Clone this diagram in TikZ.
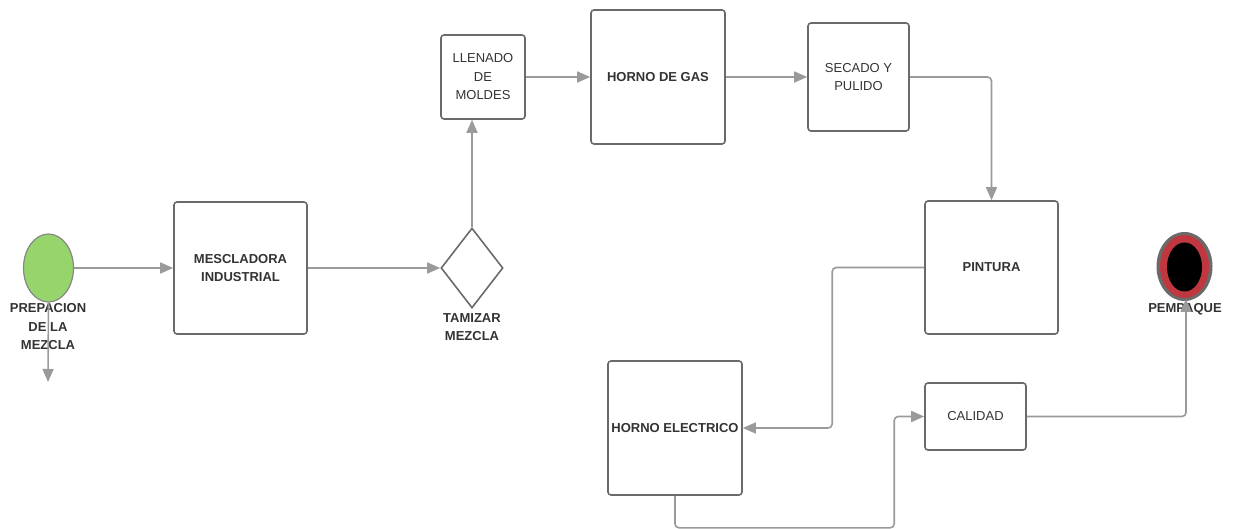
\documentclass[tikz,border=0pt]{standalone}
\usepackage{fontspec}
\setmainfont{Liberation Sans}
\usetikzlibrary{shapes.geometric,arrows.meta,calc}
\definecolor{boxline}{HTML}{6A6A6A}
\definecolor{conn}{HTML}{9A9A9A}
\definecolor{txt}{HTML}{333333}
\definecolor{startgreen}{HTML}{96D46C}
\definecolor{endred}{HTML}{C0373F}
\tikzset{
  procbox/.style={draw=boxline, line width=1.6pt, rounded corners=3pt, inner sep=0pt,
    align=center, text=txt, font=\fontsize{13}{18.5}\selectfont},
  boldtxt/.style={font=\fontsize{13}{18.5}\selectfont\bfseries},
  lbl/.style={align=center, text=txt, inner sep=0pt, font=\fontsize{13}{18.5}\selectfont\bfseries},
  arr/.style={draw=conn, line width=1.6pt, rounded corners=4pt,
    -{Triangle[length=13pt,width=11pt,fill=conn]}}
}
\begin{document}
\begin{tikzpicture}[x=1pt,y=-1pt]
\useasboundingbox (0,0) rectangle (1233,529);
% start event
\node[ellipse, draw=boxline!80, line width=1.2pt, fill=startgreen, minimum width=50pt, minimum height=68pt, inner sep=0pt] (start) at (48.5,268) {};
\node[lbl] (startlbl) at (48,327) {PREPACION\\DE LA\\MEZCLA};
% process boxes
\node[procbox, boldtxt, minimum width=133pt, minimum height=132pt] (mesc) at (240.5,268) {MESCLADORA\\INDUSTRIAL};
\node[diamond, draw=boxline, line width=1.6pt, minimum width=62pt, minimum height=80pt, inner sep=0pt] (tam) at (472,268) {};
\node[lbl] (tamlbl) at (472,327) {TAMIZAR\\MEZCLA};
\node[procbox, minimum width=84pt, minimum height=84pt] (llen) at (483,77) {LLENADO\\DE\\MOLDES};
\node[procbox, boldtxt, minimum width=134pt, minimum height=134pt] (gas) at (658,77) {HORNO DE GAS};
\node[procbox, minimum width=101pt, minimum height=108pt] (sec) at (858.5,77) {SECADO Y\\PULIDO};
\node[procbox, boldtxt, minimum width=133pt, minimum height=133pt] (pint) at (991.5,267.5) {PINTURA};
\node[procbox, boldtxt, minimum width=134pt, minimum height=134pt] (helec) at (675,428) {HORNO ELECTRICO};
\node[procbox, minimum width=101pt, minimum height=67pt] (cal) at (975.5,416.5) {CALIDAD};
% end event
\node[ellipse, fill=boxline, minimum width=56pt, minimum height=69pt, inner sep=0pt] (endev) at (1184.5,266.5) {};
\node[ellipse, fill=endred, minimum width=49pt, minimum height=63pt, inner sep=0pt] (endring) at (1184.5,266.5) {};
\node[ellipse, fill=black, minimum width=35pt, minimum height=49pt, inner sep=0pt] (endcore) at (1184.5,267) {};
\node[lbl] (endlbl) at (1185,309) {PEMPAQUE};
% connectors
\coordinate (startout) at (48,382);
\draw[arr] (start.south) -- (startout);
\draw[arr] (start.east) -- (mesc.west);
\draw[arr] (mesc.east) -- (tam.west);
\draw[arr] (tam.north) -- (tam.north |- llen.south);
\draw[arr] (llen.east) -- (gas.west);
\draw[arr] (gas.east) -- (sec.west);
\draw[arr] (sec.east) -| (pint.north);
\draw[arr] (pint.west) -- ++(-92,0) |- (helec.east);
\draw[arr] (helec.south) -- ++(0,32) -| ($(cal.west)+(-30,0)$) -- (cal.west);
\draw[arr] (cal.east) -| ($(endlbl.north)+(1,-4)$);
\end{tikzpicture}
\end{document}
